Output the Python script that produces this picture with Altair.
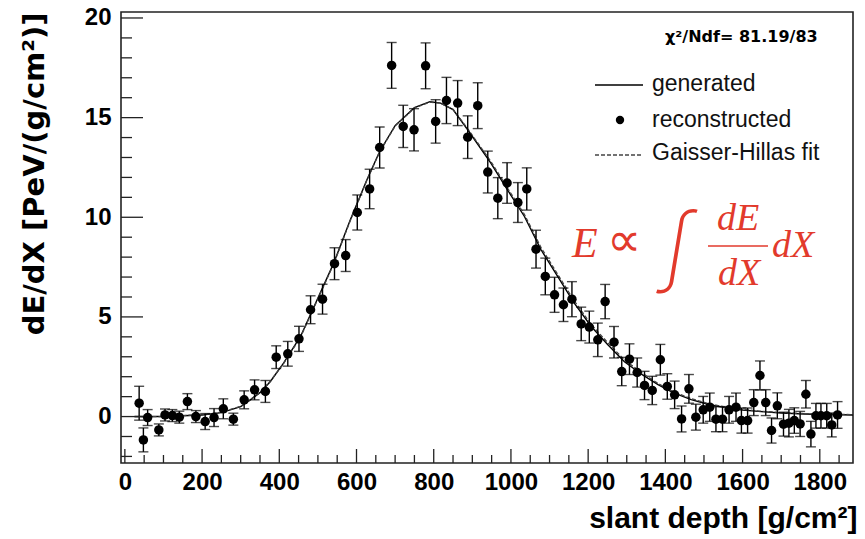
import altair as alt
import pandas as pd

# ---------------- data ----------------
depth = [37, 48, 59, 88, 104, 123, 141, 162, 184, 208,
         231, 255, 281, 309, 336, 364, 392, 422, 451, 481,
         512, 543, 572, 602, 634, 660, 691, 721, 749, 779,
         805, 833, 862, 888, 914, 940, 966, 990, 1018, 1041,
         1065, 1089, 1113, 1136, 1158, 1182, 1203, 1225, 1244, 1267,
         1287, 1307, 1327, 1346, 1366, 1387, 1405, 1424, 1442, 1461,
         1479, 1498, 1515, 1531, 1548, 1565, 1583, 1597, 1613, 1629,
         1645, 1660, 1675, 1690, 1706, 1720, 1734, 1749, 1764, 1777,
         1790, 1803, 1818, 1831, 1846]
dedx = [0.67, -1.17, -0.05, -0.67, 0.08, 0.05, -0.03, 0.75, 0.0, -0.25,
        -0.05, 0.39, -0.13, 0.84, 1.34, 1.26, 2.98, 3.15, 3.90, 5.36,
        5.89, 7.67, 8.08, 10.24, 11.42, 13.5, 17.62, 14.56, 14.39, 17.6,
        14.81, 15.86, 15.73, 14.02, 15.6, 12.27, 10.96, 11.72, 10.74, 11.42,
        8.40, 7.03, 6.11, 5.61, 5.89, 4.65, 4.49, 3.85, 5.77, 3.73,
        2.26, 2.88, 2.21, 1.56, 1.31, 2.85, 1.51, 1.09, -0.12, 1.39,
        -0.03, 0.34, 0.47, -0.13, -0.13, 0.34, 0.47, -0.2, -0.2, 0.70,
        2.06, 0.70, -0.70, 0.54, -0.38, -0.33, -0.2, -0.37, 1.12, -0.88,
        0.04, 0.04, 0.04, -0.42, 0.08]
err = [0.85, 0.6, 0.4, 0.3, 0.3, 0.3, 0.3, 0.4, 0.3, 0.4,
       0.45, 0.5, 0.3, 0.45, 0.5, 0.55, 0.57, 0.62, 0.63, 0.7,
       0.75, 0.8, 0.8, 0.88, 0.99, 1.03, 1.15, 1.06, 1.06, 1.15,
       1.09, 1.16, 1.13, 1.07, 1.15, 1.05, 1.03, 1.02, 1.0, 1.06,
       0.95, 0.92, 0.88, 0.84, 0.88, 0.84, 0.8, 0.84, 0.86, 0.79,
       0.71, 0.77, 0.73, 0.71, 0.71, 0.77, 0.64, 0.69, 0.65, 0.72,
       0.65, 0.67, 0.71, 0.63, 0.63, 0.67, 0.71, 0.63, 0.63, 0.65,
       0.73, 0.65, 0.63, 0.65, 0.6, 0.69, 0.64, 0.63, 0.69, 0.64,
       0.62, 0.62, 0.62, 0.6, 0.67]

curve_x = [25, 100, 200, 250, 300, 325, 350, 377, 411, 455,
           498, 541, 584, 627, 660, 700, 750, 790, 818, 850,
           888, 948, 991, 1035, 1078, 1121, 1164, 1208, 1251, 1294,
           1340, 1381, 1420, 1467, 1510, 1554, 1600, 1641, 1700, 1760,
           1820, 1886]
generated = [0.0, 0.0, 0.08, 0.2, 0.5, 0.84, 1.2, 1.76, 2.68, 4.02,
             5.86, 7.70, 9.87, 11.88, 13.3, 14.6, 15.5, 15.8, 15.73, 15.4,
             14.39, 12.72, 11.38, 10.04, 8.37, 7.03, 5.69, 4.52, 3.6, 2.75,
             2.1, 1.6, 1.2, 0.85, 0.62, 0.45, 0.33, 0.26, 0.18, 0.13,
             0.1, 0.08]
gh_fit = [0.0, 0.0, 0.1, 0.22, 0.52, 0.85, 1.22, 1.78, 2.66, 3.98,
          5.82, 7.66, 9.84, 11.86, 13.28, 14.58, 15.48, 15.78, 15.72, 15.42,
          14.44, 12.8, 11.47, 10.14, 8.48, 7.14, 5.8, 4.62, 3.7, 2.84,
          2.18, 1.66, 1.25, 0.9, 0.66, 0.48, 0.36, 0.28, 0.2, 0.15,
          0.12, 0.1]

x_labels = [0, 200, 400, 600, 800, 1000, 1200, 1400, 1600, 1800]
x_minor = [v for v in range(0, 1851, 50) if v % 200 != 0]
y_labels = [0, 5, 10, 15, 20]
y_minor = [v for v in range(-2, 21) if v % 5 != 0]

legend_labels = ["generated", "reconstructed", "Gaisser-Hillas fit"]
chi2_text = "χ²/Ndf=  81.19/83"
x_title = "slant depth [g/cm²]"
y_title = "dE/dX [PeV/(g/cm²)]"

# ---------------- chart ----------------
W, H = 732, 451
RED = "#e23a2c"
FRAME = "#222222"
xs = alt.Scale(domain=[-10, 1886], nice=False, zero=False)
ys = alt.Scale(domain=[-2.33, 20.3], nice=False, zero=False)

pts = pd.DataFrame({"depth": depth, "dedx": dedx, "err": err})
pts["lo"] = pts["dedx"] - pts["err"]
pts["hi"] = pts["dedx"] + pts["err"]
curves = pd.DataFrame({"x": curve_x, "gen": generated, "fit": gh_fit})

xaxis = alt.Axis(values=x_labels, format="d", ticks=False, domain=False, grid=False,
                 labelFont="Liberation Sans", labelFontSize=24, labelFontWeight="bold",
                 labelColor="black", labelPadding=7, labelFlush=False,
                 titleFont="Liberation Sans", titleFontSize=30,
                 titleFontWeight="bold", titleColor="black", titleX=736, titleY=64,
                 titleAlign="right", titleBaseline="alphabetic", titleAngle=0)
yaxis = alt.Axis(values=y_labels, format="d", ticks=False, domain=False, grid=False,
                 labelFont="Liberation Sans", labelFontSize=24, labelFontWeight="bold",
                 labelColor="black", labelPadding=10, labelFlush=False,
                 titleFont="DejaVu Sans", titleFontSize=29,
                 titleFontWeight="bold", titleColor="black", titleX=-78, titleY=0,
                 titleAngle=270, titleAlign="right", titleBaseline="alphabetic")


def X(field):
    return alt.X(field, scale=xs, axis=xaxis, title=x_title)


def Y(field):
    return alt.Y(field, scale=ys, axis=yaxis, title=y_title)


gen_line = alt.Chart(curves).mark_line(color="black", strokeWidth=1.4).encode(
    x=X("x:Q"), y=Y("gen:Q"))
fit_line = alt.Chart(curves).mark_line(color="#444444", strokeWidth=1.3, strokeDash=[4, 2]).encode(
    x=X("x:Q"), y=Y("fit:Q"))

err_rule = alt.Chart(pts).mark_rule(color="black", strokeWidth=1.4).encode(
    x=X("depth:Q"), y=Y("lo:Q"), y2="hi:Q")
cap_lo = alt.Chart(pts).mark_tick(orient="horizontal", size=10, thickness=1.4, color="black").encode(
    x=X("depth:Q"), y=Y("lo:Q"))
cap_hi = alt.Chart(pts).mark_tick(orient="horizontal", size=10, thickness=1.4, color="black").encode(
    x=X("depth:Q"), y=Y("hi:Q"))
dots = alt.Chart(pts).mark_point(filled=True, shape="circle", size=90, color="black", opacity=1).encode(
    x=X("depth:Q"), y=Y("dedx:Q"))

# inside ticks (ROOT style)
xmaj = alt.Chart(pd.DataFrame({"t": x_labels})).mark_rule(color=FRAME, strokeWidth=1.3).encode(
    x=X("t:Q"), y=alt.value(H), y2=alt.value(H - 14))
xmin = alt.Chart(pd.DataFrame({"t": x_minor})).mark_rule(color=FRAME, strokeWidth=1.3).encode(
    x=X("t:Q"), y=alt.value(H), y2=alt.value(H - 8))
ymaj = alt.Chart(pd.DataFrame({"t": y_labels})).mark_rule(color=FRAME, strokeWidth=1.3).encode(
    y=Y("t:Q"), x=alt.value(0), x2=alt.value(22))
ymin = alt.Chart(pd.DataFrame({"t": y_minor})).mark_rule(color=FRAME, strokeWidth=1.3).encode(
    y=Y("t:Q"), x=alt.value(0), x2=alt.value(11))


def label(text, x, y, **kw):
    return alt.Chart(pd.DataFrame({"t": [text]})).mark_text(**kw).encode(
        x=alt.value(x), y=alt.value(y), text="t:N")


one = pd.DataFrame({"k": [0]})

chi2 = label(chi2_text, 544, 25, font="DejaVu Sans", fontSize=16, fontWeight="bold",
             align="left", baseline="middle", color="black")

leg_line = alt.Chart(one).mark_rule(color="black", strokeWidth=1.3).encode(
    x=alt.value(474), x2=alt.value(522), y=alt.value(73))
leg_dot = alt.Chart(one).mark_point(filled=True, shape="circle", size=70, color="black", opacity=1).encode(
    x=alt.value(499), y=alt.value(108))
leg_dash = alt.Chart(one).mark_rule(color="#444444", strokeWidth=1.3, strokeDash=[4, 2]).encode(
    x=alt.value(474), x2=alt.value(522), y=alt.value(143))
leg_texts = [label(t, 531, yy, font="Liberation Sans", fontSize=23, align="left",
                   baseline="middle", color="#111111")
             for t, yy in zip(legend_labels, [72, 108, 141])]

# formula  E ∝ ∫ dE/dX dX
f_E = label("E", 451, 245, font="Liberation Serif", fontStyle="italic", fontSize=42,
            align="left", baseline="alphabetic", color=RED)
f_prop = label("∝", 503, 244, font="Inter", fontWeight=200, fontSize=48,
               align="center", baseline="alphabetic", color=RED)
f_int = label("∫", 557, 262, font="Inter", fontWeight=200, fontStyle="italic",
              fontSize=84, align="center", baseline="alphabetic", color=RED)
f_num = label("dE", 617, 218, font="Liberation Serif", fontStyle="italic", fontSize=38,
              align="center", baseline="alphabetic", color=RED)
f_bar = alt.Chart(one).mark_rule(color=RED, strokeWidth=1.6).encode(
    x=alt.value(587), x2=alt.value(647), y=alt.value(234))
f_den = label("dX", 618, 273, font="Liberation Serif", fontStyle="italic", fontSize=38,
              align="center", baseline="alphabetic", color=RED)
f_dx = label("dX", 651, 245, font="Liberation Serif", fontStyle="italic", fontSize=38,
             align="left", baseline="alphabetic", color=RED)

chart = alt.layer(
    gen_line, fit_line, err_rule, cap_lo, cap_hi, dots,
    xmaj, xmin, ymaj, ymin,
    chi2, leg_line, leg_dot, leg_dash, *leg_texts,
    f_E, f_prop, f_int, f_num, f_bar, f_den, f_dx,
).properties(
    width=W, height=H,
    autosize=alt.AutoSizeParams(type="none"),
    padding={"left": 121, "top": 12, "right": 12, "bottom": 76},
    background="white",
).configure_view(stroke=FRAME, strokeWidth=1.6)

chart.save("out.html", embed_options={"renderer": "svg", "actions": False})
